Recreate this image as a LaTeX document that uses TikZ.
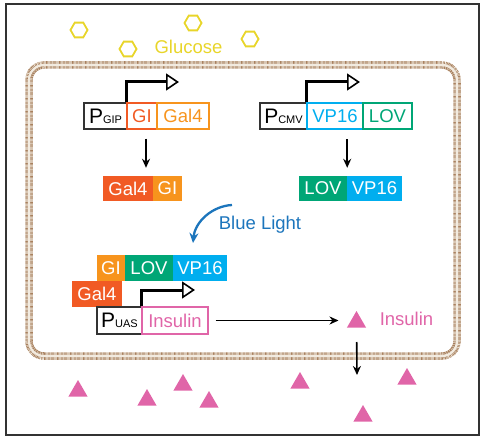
\documentclass[tikz,border=0pt]{standalone}
\usepackage{fontspec}
\setmainfont{Liberation Sans}
\usetikzlibrary{arrows.meta,shapes.geometric}
\definecolor{gred}{HTML}{F15A24}
\definecolor{gorange}{HTML}{F7941D}
\definecolor{lovgreen}{HTML}{00A676}
\definecolor{vpcyan}{HTML}{00AEEF}
\definecolor{inspink}{HTML}{E065A8}
\definecolor{glyellow}{HTML}{E8D52A}
\definecolor{lightblue}{HTML}{1C75BC}
\definecolor{membrane}{HTML}{A8805E}
\definecolor{membranebg}{HTML}{F2EBE0}
\newcommand{\promlabel}[1]{{\fontsize{21}{21}\selectfont P}{\fontsize{11}{11}\selectfont #1}}
\begin{document}
\begin{tikzpicture}[x=1pt,y=-1pt,
  lbl/.style={font=\fontsize{18.5}{20}\selectfont},
  obox/.style={draw=#1, text=#1, line width=1.3pt, minimum height=26pt, inner sep=0pt, lbl},
  fbox/.style={fill=#1, text=white, minimum height=26pt, inner sep=0pt, lbl},
  pbox/.style={draw=black!80, line width=1.3pt, minimum height=26pt, inner sep=0pt},
  prom/.style={line width=3pt, -{Triangle[open, length=13pt, width=17pt, line width=1.6pt]}},
  flow/.style={line width=1.6pt, -{Stealth[length=9pt, width=8pt]}},
  hexa/.style={regular polygon, regular polygon sides=6, draw=glyellow, line width=1.8pt, minimum size=17pt, inner sep=0pt},
  tri/.style={regular polygon, regular polygon sides=3, fill=inspink, minimum size=22pt, inner sep=0pt},
  memb/.style={rounded corners=15pt},
]
\useasboundingbox (0,0) rectangle (484,438);
% frame
\draw[line width=2pt, black!80] (6,4) rectangle (479,435);
% membrane
\draw[memb, line width=7.5pt, membranebg] (29,65) rectangle (457,356);
\draw[memb, line width=7.5pt, membrane, dash pattern=on 0.6pt off 0.7pt] (29,65) rectangle (457,356);
\draw[memb, line width=2.2pt, membranebg] (29,65) rectangle (457,356);
% glucose
\node[hexa] (h1) at (79,30) {};
\node[hexa] (h2) at (128,49) {};
\node[hexa] (h3) at (193,23) {};
\node[hexa] (h4) at (250,39) {};
\node[lbl, text=glyellow] (glc) at (188.5,47) {Glucose};
% gene 1
\node[pbox, minimum width=43pt] (pgip) at (105.5,116) {\promlabel{GIP}};
\node[obox=gred, minimum width=30pt] (gi1) at (142,116) {GI};
\node[obox=gorange, minimum width=52pt] (gal1) at (183,116) {Gal4};
\coordinate (t1) at (179,82);
\draw[prom] ([xshift=-1.5pt]pgip.north east) |- (t1);
% gene 2
\node[pbox, minimum width=47pt] (pcmv) at (283.5,116) {\promlabel{CMV}};
\node[obox=vpcyan, minimum width=56pt] (vp1) at (335,116) {VP16};
\node[obox=lovgreen, minimum width=49pt] (lov1) at (387.5,116) {LOV};
\coordinate (t2) at (360,82);
\draw[prom] ([xshift=-1.5pt]pcmv.north east) |- (t2);
% proteins
\node[fbox=gred, minimum width=50pt, minimum height=25pt] (galp) at (128,188.5) {Gal4};
\node[fbox=gorange, minimum width=29pt, minimum height=25pt] (gip) at (167.5,188.5) {GI};
\node[fbox=lovgreen, minimum width=48pt, minimum height=25pt] (lovp) at (323,188.5) {LOV};
\node[fbox=vpcyan, minimum width=55pt, minimum height=25pt] (vpp) at (374.5,188.5) {VP16};
\draw[flow, shorten <=9pt, shorten >=8pt] ([xshift=4pt]gi1.south) -- ([xshift=4pt]gi1.south |- galp.north);
\draw[flow, shorten <=9.5pt, shorten >=8pt] (lovp.north east |- vp1.south) -- (lovp.north east);
% blue light
\coordinate (bl1) at (232,205);
\coordinate (bl2) at (193,243);
\draw[line width=2.3pt, lightblue, -{Stealth[length=10pt, width=9pt]}] (bl1) .. controls (212,206) and (195,222) .. (bl2);
\node[lbl, text=lightblue] (blt) at (260,225) {Blue Light};
% complex
\node[fbox=gorange, minimum width=28pt] (gic) at (111,268) {GI};
\node[fbox=lovgreen, minimum width=48pt] (lovc) at (149,268) {LOV};
\node[fbox=vpcyan, minimum width=54pt] (vpc) at (200,268) {VP16};
\node[fbox=gred, minimum width=50pt] (galc) at (97,294) {Gal4};
\node[pbox, minimum width=45pt, minimum height=27pt] (puas) at (119.5,320.5) {\promlabel{UAS}};
\node[obox=inspink, minimum width=66pt, minimum height=27pt] (ins) at (175,320.5) {Insulin};
\coordinate (t3) at (195,290);
\draw[prom] ([xshift=-1.5pt]puas.north east) |- (t3);
% insulin secretion
\node[tri] (tr0) at (356.5,322) {};
\node[lbl, text=inspink] (inst) at (406.5,319) {Insulin};
\draw[flow, shorten <=7pt, shorten >=18pt] (ins.east) -- (ins.east -| tr0.center);
\coordinate (out1) at (357,375);
\draw[flow, shorten <=20pt] (tr0.center) -- (out1);
\node[tri] (tr1) at (300,383) {};
\node[tri] (tr2) at (407,379) {};
\node[tri] (tr3) at (363,416) {};
\node[tri] (tr4) at (78,391) {};
\node[tri] (tr5) at (147,400) {};
\node[tri] (tr6) at (183,385) {};
\node[tri] (tr7) at (209,402) {};
\end{tikzpicture}
\end{document}
